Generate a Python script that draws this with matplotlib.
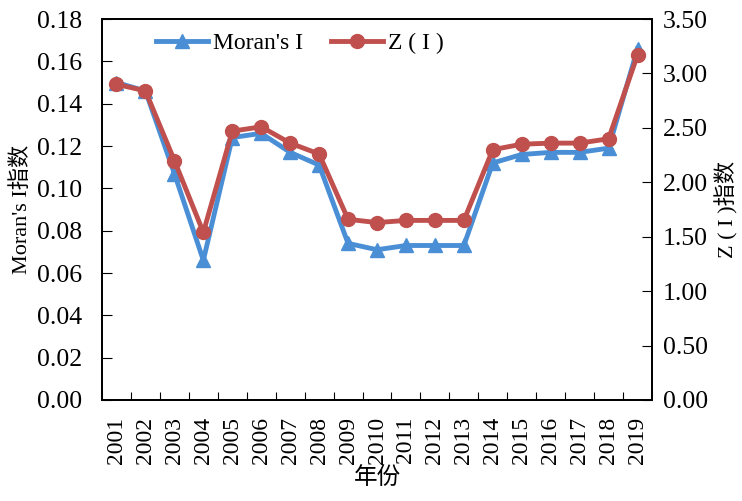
import matplotlib.pyplot as plt

plt.rcParams['font.family'] = ['Liberation Serif', 'Noto Sans CJK SC']

years = [str(y) for y in range(2001, 2020)]
moran_i = [0.150, 0.146, 0.107, 0.066, 0.124, 0.126, 0.117, 0.111, 0.074, 0.071,
           0.073, 0.073, 0.073, 0.112, 0.116, 0.117, 0.117, 0.119, 0.166]
z_i = [2.90, 2.84, 2.20, 1.54, 2.47, 2.51, 2.36, 2.26, 1.66, 1.63,
       1.65, 1.65, 1.65, 2.30, 2.35, 2.36, 2.36, 2.40, 3.17]

blue = '#4a8fd6'
red = '#c0504d'

fig = plt.figure(figsize=(7.42, 5.01), dpi=100)
ax = fig.add_axes([0.1375, 0.2016, 0.7412, 0.7604])
ax2 = ax.twinx()

x = list(range(len(years)))
l1, = ax.plot(x, moran_i, color=blue, lw=3.5, marker='^', ms=10, label="Moran's I")
l2, = ax2.plot(x, z_i, color=red, lw=3.5, marker='o', ms=10, label='Z ( I )')

ax.set_xlim(-0.5, len(years) - 0.5)
ax.set_ylim(0, 0.18)
ax2.set_ylim(0, 3.5)
ax.set_yticks([i * 0.02 for i in range(10)])
ax.set_yticklabels([f'{i * 0.02:.2f}' for i in range(10)])
ax2.set_yticks([i * 0.5 for i in range(8)])
ax2.set_yticklabels([f'{i * 0.5:.2f}' for i in range(8)])

# category axis: ticks between categories, labels centered
ax.set_xticks([i + 0.5 for i in range(len(years) - 1)])
ax.set_xticklabels([])
ax.set_xticks(x, minor=True)
ax.set_xticklabels(years, minor=True, rotation=90, fontsize=17)
ax.tick_params(axis='x', which='minor', length=0, pad=12)
ax.tick_params(axis='x', which='major', direction='in', length=6)
ax.tick_params(axis='y', direction='in', length=7, labelsize=18.5, pad=14)
ax2.tick_params(axis='y', direction='in', length=7, labelsize=18.5, pad=8)

for a in (ax, ax2):
    for s in a.spines.values():
        s.set_linewidth(1.3)

ax.set_ylabel("Moran's I指数", fontsize=16, labelpad=4)
ax2.set_ylabel('Z ( I )指数', fontsize=16, labelpad=5)
ax.set_xlabel('年份', fontsize=17, labelpad=2)

ax.legend([l1, l2], ["Moran's I", 'Z ( I )'], loc='upper left', ncol=2, frameon=False,
          fontsize=17, bbox_to_anchor=(0.06, 1.02), handlelength=2.2, columnspacing=1.2,
          handletextpad=0.2)

fig.savefig('out.png', dpi=100)
